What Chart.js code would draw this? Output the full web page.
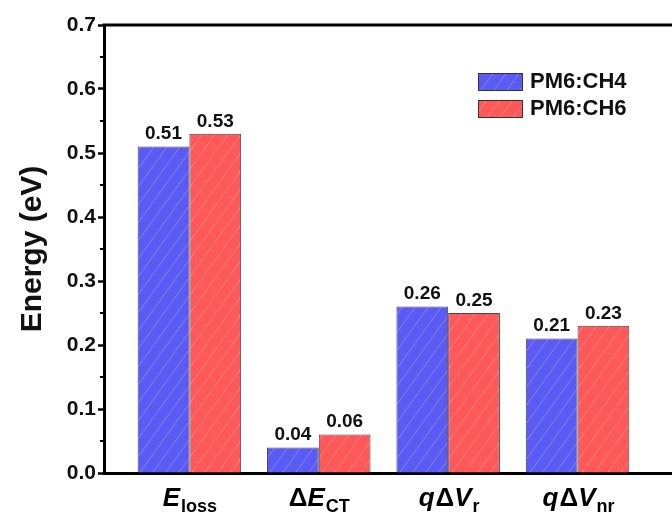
<!DOCTYPE html>
<html>
<head>
<meta charset="utf-8">
<script src="https://cdn.jsdelivr.net/npm/chart.js@4/dist/chart.umd.min.js"></script>
<style>
  html, body { margin: 0; padding: 0; background: #ffffff; overflow: hidden; }
  #wrap { width: 672px; height: 522px; }
</style>
</head>
<body>
<div id="wrap"><canvas id="chart" width="672" height="522"></canvas></div>
<script>
// ---- data ----
const categories = ['Eloss', 'dECT', 'qdVr', 'qdVnr'];
const seriesNames = ['PM6:CH4', 'PM6:CH6'];
const ch4Values = [0.51, 0.04, 0.26, 0.21];
const ch6Values = [0.53, 0.06, 0.25, 0.23];
const yTickValues = [0.0, 0.1, 0.2, 0.3, 0.4, 0.5, 0.6, 0.7];

// rich-text pieces for each category label (main text / italic / subscript)
const categoryLabelParts = [
  [{ t: 'E', it: true }, { t: 'loss', sub: true }],
  [{ t: '\u0394' }, { t: 'E', it: true }, { t: 'CT', sub: true }],
  [{ t: 'q', it: true }, { t: '\u0394' }, { t: 'V', it: true }, { t: 'r', sub: true }],
  [{ t: 'q', it: true }, { t: '\u0394' }, { t: 'V', it: true }, { t: 'nr', sub: true }]
];

const FONT = '"Liberation Sans", Arial, sans-serif';
const BLUE = 'rgb(90, 90, 245)';
const RED = 'rgb(255, 88, 88)';

const canvas = document.getElementById('chart');
const ctx = canvas.getContext('2d');

// diagonal light hatch on a solid fill
function hatch(fill) {
  const w = 13, h = 18;
  const c = document.createElement('canvas');
  c.width = w; c.height = h;
  const g = c.getContext('2d');
  g.fillStyle = fill;
  g.fillRect(0, 0, w, h);
  g.strokeStyle = 'rgba(255,255,255,0.28)';
  g.lineWidth = 1;
  g.beginPath();
  g.moveTo(0, h); g.lineTo(w, 0);
  g.moveTo(-w, 2 * h); g.lineTo(0, h);
  g.moveTo(w, 0); g.lineTo(2 * w, -h);
  g.stroke();
  return ctx.createPattern(c, 'repeat');
}

const fills = [hatch(BLUE), hatch(RED)];
const seriesValues = [ch4Values, ch6Values];

// top frame line and minor ticks on the value axis
const framePlugin = {
  id: 'frame',
  afterDraw(chart) {
    const { ctx, chartArea } = chart;
    const y = chart.scales.y;
    ctx.save();
    ctx.strokeStyle = '#000';
    ctx.lineWidth = 3;
    ctx.beginPath();
    ctx.moveTo(chartArea.left - 1.5, chartArea.top);
    ctx.lineTo(chartArea.right, chartArea.top);
    ctx.stroke();
    ctx.lineWidth = 2;
    ctx.beginPath();
    for (let i = 0; i < yTickValues.length - 1; i++) {
      const v = (yTickValues[i] + yTickValues[i + 1]) / 2;
      const py = Math.round(y.getPixelForValue(v));
      ctx.moveTo(chartArea.left - 4, py);
      ctx.lineTo(chartArea.left, py);
    }
    ctx.stroke();
    ctx.restore();
  }
};

// value labels above each bar
const valueLabelPlugin = {
  id: 'valueLabels',
  afterDatasetsDraw(chart) {
    const { ctx } = chart;
    ctx.save();
    ctx.font = 'bold 19px ' + FONT;
    ctx.fillStyle = '#111';
    ctx.textAlign = 'center';
    ctx.textBaseline = 'bottom';
    chart.data.datasets.forEach((ds, di) => {
      chart.getDatasetMeta(di).data.forEach((bar, i) => {
        ctx.fillText(seriesValues[di][i].toFixed(2), bar.x, bar.y - 3);
      });
    });
    ctx.restore();
  }
};

// category labels with italics and subscripts under the axis
const categoryLabelPlugin = {
  id: 'categoryLabels',
  afterDraw(chart) {
    const { ctx } = chart;
    const x = chart.scales.x;
    const baseY = chart.chartArea.bottom + 33;
    ctx.save();
    ctx.fillStyle = '#000';
    ctx.textBaseline = 'alphabetic';
    const fontFor = p => p.sub ? 'bold 18px ' + FONT : (p.it ? 'italic bold 26px ' : 'bold 26px ') + FONT;
    categoryLabelParts.forEach((parts, i) => {
      let total = 0;
      const widths = parts.map(p => { ctx.font = fontFor(p); const w = ctx.measureText(p.t).width; total += w; return w; });
      let cx = x.getPixelForValue(i + 1) - total / 2;
      parts.forEach((p, k) => {
        ctx.font = fontFor(p);
        ctx.fillText(p.t, cx, baseY + (p.sub ? 6 : 0));
        cx += widths[k] + (p.it && !p.sub ? 1 : 0);
      });
    });
    ctx.restore();
  }
};

// custom legend in the upper right of the plot
const legendPlugin = {
  id: 'boxLegend',
  afterDraw(chart) {
    const { ctx } = chart;
    ctx.save();
    ctx.font = 'bold 22px ' + FONT;
    ctx.textBaseline = 'middle';
    ctx.textAlign = 'left';
    chart.data.datasets.forEach((ds, i) => {
      const top = 73 + i * 27;
      ctx.fillStyle = ds.backgroundColor;
      ctx.fillRect(478, top, 45, 18);
      ctx.strokeStyle = '#333';
      ctx.lineWidth = 1;
      ctx.strokeRect(478.5, top + 0.5, 44, 17);
      ctx.fillStyle = '#111';
      ctx.fillText(ds.label, 530, top + 9);
    });
    ctx.restore();
  }
};

new Chart(ctx, {
  type: 'bar',
  data: {
    datasets: seriesNames.map((name, di) => ({
      label: name,
      data: seriesValues[di].map((v, i) => ({ x: i + 1, y: v })),
      backgroundColor: fills[di],
      borderColor: 'rgba(50,50,60,0.9)',
      borderWidth: 1,
      categoryPercentage: 0.8,
      barPercentage: 1.0
    }))
  },
  options: {
    responsive: false,
    animation: false,
    devicePixelRatio: 1,
    layout: { padding: { top: 25, left: 0, right: 0, bottom: 0 } },
    plugins: { legend: { display: false }, tooltip: { enabled: false } },
    scales: {
      x: {
        type: 'linear',
        min: 0.34,
        max: 4.73,
        offset: false,
        ticks: { display: false, stepSize: 1, includeBounds: false },
        grid: { display: false, drawTicks: false },
        border: { color: '#000', width: 3 },
        afterFit(s) { s.height = 49; }
      },
      y: {
        min: 0,
        max: 0.7,
        ticks: {
          stepSize: 0.1,
          callback: v => Number(v).toFixed(1),
          font: { family: FONT, size: 21, weight: 'bold' },
          color: '#111',
          padding: 2
        },
        grid: { display: true, drawOnChartArea: false, tickLength: 6, tickWidth: 2.5, tickColor: '#000' },
        border: { color: '#000', width: 3 },
        title: {
          display: true,
          text: 'Energy (eV)',
          font: { family: FONT, size: 30, weight: 'bold' },
          color: '#111',
          padding: { top: 15, bottom: 0 }
        },
        afterFit(s) { s.width = 104; }
      }
    }
  },
  plugins: [framePlugin, valueLabelPlugin, categoryLabelPlugin, legendPlugin]
});
</script>
</body>
</html>
